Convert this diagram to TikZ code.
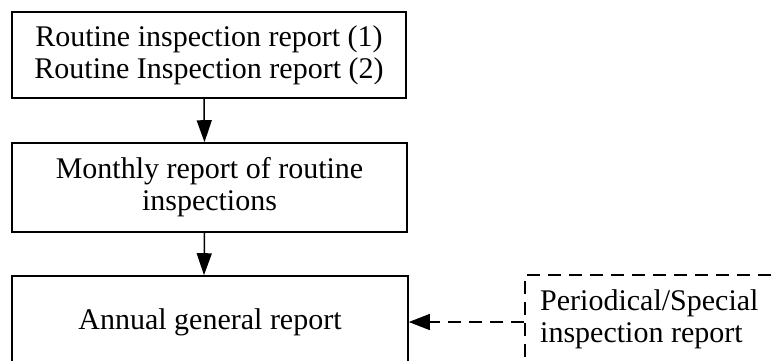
\documentclass[tikz,border=0pt]{standalone}
\usepackage{fontspec}
\setmainfont{Liberation Serif}
\usetikzlibrary{arrows.meta}
\begin{document}
\begin{tikzpicture}[x=1pt,y=-1pt,
  every node/.style={font=\fontsize{30}{32}\selectfont},
  reportbox/.style={draw,line width=1.6pt,align=center,inner sep=0pt},
  extbox/.style={draw,dash pattern=on 13pt off 8pt,line width=1.4pt,inner sep=0pt},
  flow/.style={line width=1.5pt,-{Triangle[length=22pt,width=15pt]}},
  extflow/.style={line width=1.3pt,dash pattern=on 13pt off 8pt,-{Triangle[length=21pt,width=16pt]}}]
  \clip (0,0) rectangle (771,360);
  \fill[white] (0,0) rectangle (771,360);

  % main chain of reports
  \node[reportbox,minimum width=394pt,minimum height=86pt] (routine) at (209,55)
    {Routine inspection report (1)\\Routine Inspection report (2)};
  \node[reportbox,minimum width=395pt,minimum height=89pt] (monthly) at (209.5,187.5)
    {Monthly report of routine\\inspections};
  \node[reportbox,minimum width=396pt,minimum height=92pt] (annual) at (210,322)
    {Annual general report};

  % external source, partly outside the frame
  \node[extbox,minimum width=265pt,minimum height=94pt] (periodic) at (657.5,322) {};
  \node[anchor=west,align=left,inner sep=0pt] (periodictext) at (540,319)
    {Periodical/Special\\inspection report};

  \draw[flow] ([xshift=-5pt]routine.south) -- ([xshift=-5pt]monthly.north);
  \draw[flow] ([xshift=-5pt]monthly.south) -- ([xshift=-6pt]annual.north);
  \draw[extflow] (periodic.west) -- (annual.east);
\end{tikzpicture}
\end{document}
